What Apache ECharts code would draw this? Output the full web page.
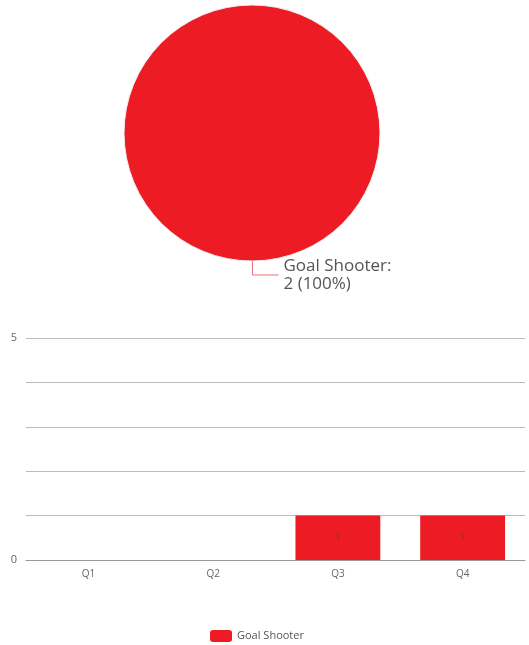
<!DOCTYPE html>
<html><head><meta charset="utf-8">
<script src="https://cdn.jsdelivr.net/npm/echarts@6/dist/echarts.min.js"></script>
<style>html,body{margin:0;padding:0;background:#fff}#c{width:529px;height:645px}</style>
</head><body><div id="c"></div>
<script>
const pieNames = ['Goal Shooter'];
const pieValues = [2];
const quarters = ['Q1', 'Q2', 'Q3', 'Q4'];
const goalShooter = [0, 0, 1, 1];
const yTickLabels = ['0', '5'];

const RED = '#ED1C24';
const FONT = '"Open Sans", sans-serif';
const chart = echarts.init(document.getElementById('c'), null, {renderer: 'canvas'});
const total = pieValues.reduce((a, b) => a + b, 0);
chart.setOption({
  animation: false,
  textStyle: {fontFamily: FONT},
  legend: {
    data: ['Goal Shooter'], left: 205, top: 625,
    itemWidth: 22, itemHeight: 12, itemGap: 4, icon: 'roundRect',
    textStyle: {fontSize: 11, color: '#555', fontFamily: FONT}
  },
  grid: {left: 26, right: 4, top: 338, height: 222},
  xAxis: {
    type: 'category', data: quarters,
    axisLine: {lineStyle: {color: '#999'}},
    axisTick: {show: false},
    axisLabel: {color: '#666', fontSize: 10, margin: 9, fontFamily: FONT}
  },
  yAxis: {
    type: 'value', min: 0, max: 5, interval: 1,
    axisLine: {show: false}, axisTick: {show: false},
    splitLine: {lineStyle: {color: '#bbb'}},
    axisLabel: {color: '#666', fontSize: 11, margin: 9, fontFamily: FONT,
      formatter: v => yTickLabels.includes(String(v)) ? String(v) : ''}
  },
  series: [
    {
      type: 'pie', center: [252, 133], radius: 128, startAngle: 90.2,
      data: pieNames.map((n, i) => ({name: n, value: pieValues[i]})),
      itemStyle: {color: RED, borderColor: '#eee', borderWidth: 1},
      label: {
        show: true, position: 'outside', color: '#555', fontSize: 17, lineHeight: 18,
        fontFamily: FONT, alignTo: 'none', align: 'left',
        formatter: p => p.name + ':\n' + p.value + ' (' + Math.round(p.value / total * 100) + '%)'
      },
      labelLine: {show: true, length: 14, length2: 26, lineStyle: {color: '#e57078', width: 1}},
      emphasis: {disabled: true}
    },
    {
      type: 'bar', name: 'Goal Shooter', data: goalShooter, barWidth: '68%',
      itemStyle: {color: RED},
      label: {show: true, position: 'inside', color: '#8a2a2a', fontSize: 9, fontFamily: FONT,
        formatter: p => p.value ? String(p.value) : ''}
    }
  ]
});
</script></body></html>
